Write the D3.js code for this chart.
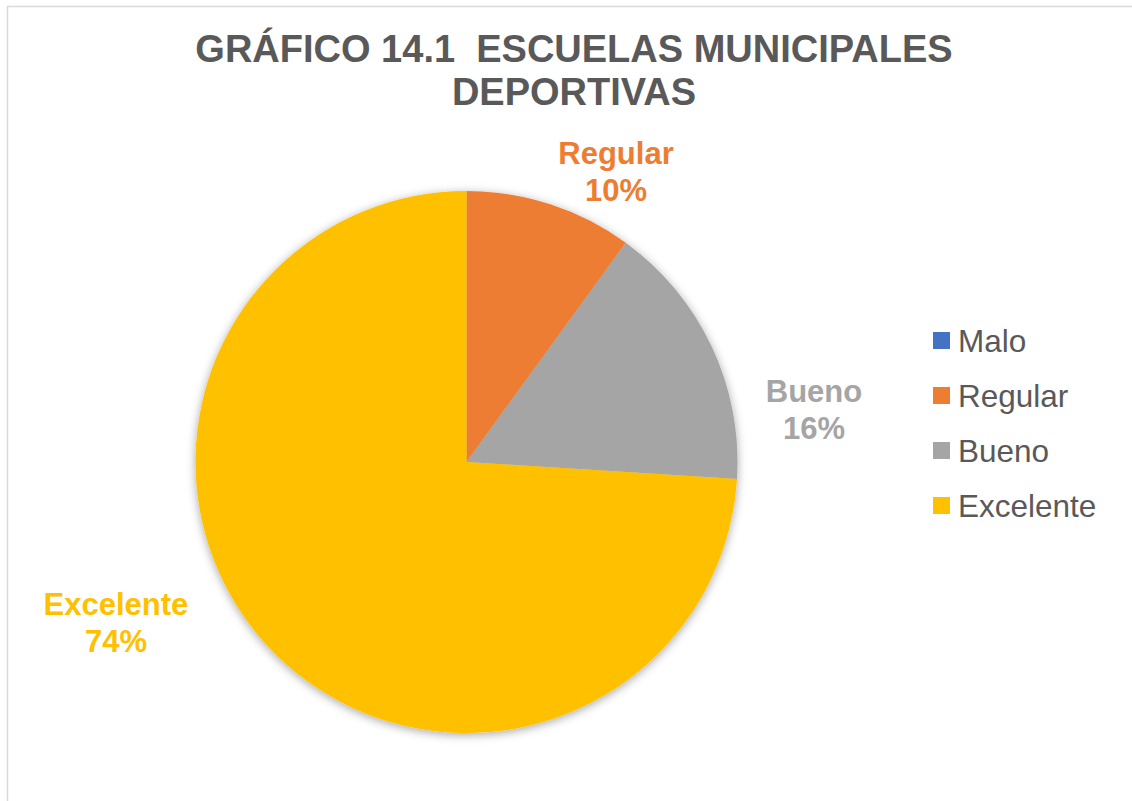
<!DOCTYPE html>
<html><head><meta charset="utf-8">
<script src="https://cdn.jsdelivr.net/npm/d3@7"></script>
<style>html,body{margin:0;padding:0;background:#fff;overflow:hidden} text.title{white-space:pre}</style>
</head><body>
<svg id="chart" width="1132" height="801"></svg>
<script>
const categories = ["Malo", "Regular", "Bueno", "Excelente"];
const values = [0, 10, 16, 74];
const colors = ["#4472C4", "#ED7D31", "#A5A5A5", "#FFC000"];
const titleLines = ["GRÁFICO 14.1  ESCUELAS MUNICIPALES", "DEPORTIVAS"];

const svg = d3.select("#chart");
const font = "'Liberation Sans', Arial, sans-serif";

// chart border
svg.append("rect").attr("x", 7.5).attr("y", 6.5).attr("width", 1140).attr("height", 820)
  .attr("fill", "#fff").attr("stroke", "#d9d9d9").attr("stroke-width", 1.5);

// title
svg.selectAll("text.title").data(titleLines).join("text").attr("class", "title")
  .attr("xml:space", "preserve")
  .attr("x", 574).attr("y", (d, i) => 62 + i * 43)
  .attr("text-anchor", "middle").attr("font-family", font).attr("font-weight", "bold")
  .attr("font-size", 38).attr("fill", "#595959").text(d => d);

// shadow filter
const defs = svg.append("defs");
const f = defs.append("filter").attr("id", "sh").attr("x", "-20%").attr("y", "-20%").attr("width", "140%").attr("height", "140%");
f.append("feDropShadow").attr("dx", 0).attr("dy", 2).attr("stdDeviation", 5)
  .attr("flood-color", "#000").attr("flood-opacity", 0.35);

const cx = 466.5, cy = 462, r = 271;
const data = categories.map((c, i) => ({ cat: c, value: values[i], color: colors[i] }));
const pie = d3.pie().sort(null).value(d => d.value);
const arc = d3.arc().innerRadius(0).outerRadius(r);
const arcs = pie(data);

const g = svg.append("g").attr("transform", `translate(${cx},${cy})`);
const pg = g.append("g").attr("filter", "url(#sh)");
pg.selectAll("path").data(arcs.filter(a => a.data.value > 0)).join("path")
  .attr("d", arc).attr("fill", d => d.data.color);

// data labels (outside)
const labelPos = { "Regular": [616, 164], "Bueno": [814, 402], "Excelente": [116, 615] };
arcs.filter(a => a.data.value > 0).forEach(a => {
  const p = labelPos[a.data.cat];
  const t = svg.append("text").attr("text-anchor", "middle").attr("font-family", font)
    .attr("font-weight", "bold").attr("font-size", 31).attr("fill", a.data.color);
  t.append("tspan").attr("x", p[0]).attr("y", p[1]).text(a.data.cat);
  t.append("tspan").attr("x", p[0]).attr("y", p[1] + 37).text(Math.round(a.data.value) + "%");
});

// legend
const lg = svg.append("g");
const items = lg.selectAll("g").data(data).join("g")
  .attr("transform", (d, i) => `translate(933,${332 + i * 55})`);
items.append("rect").attr("width", 17).attr("height", 17).attr("fill", d => d.color);
items.append("text").attr("x", 25).attr("y", 20).attr("font-family", font)
  .attr("font-size", 31.5).attr("fill", "#595959").text(d => d.cat);
</script>
</body></html>
